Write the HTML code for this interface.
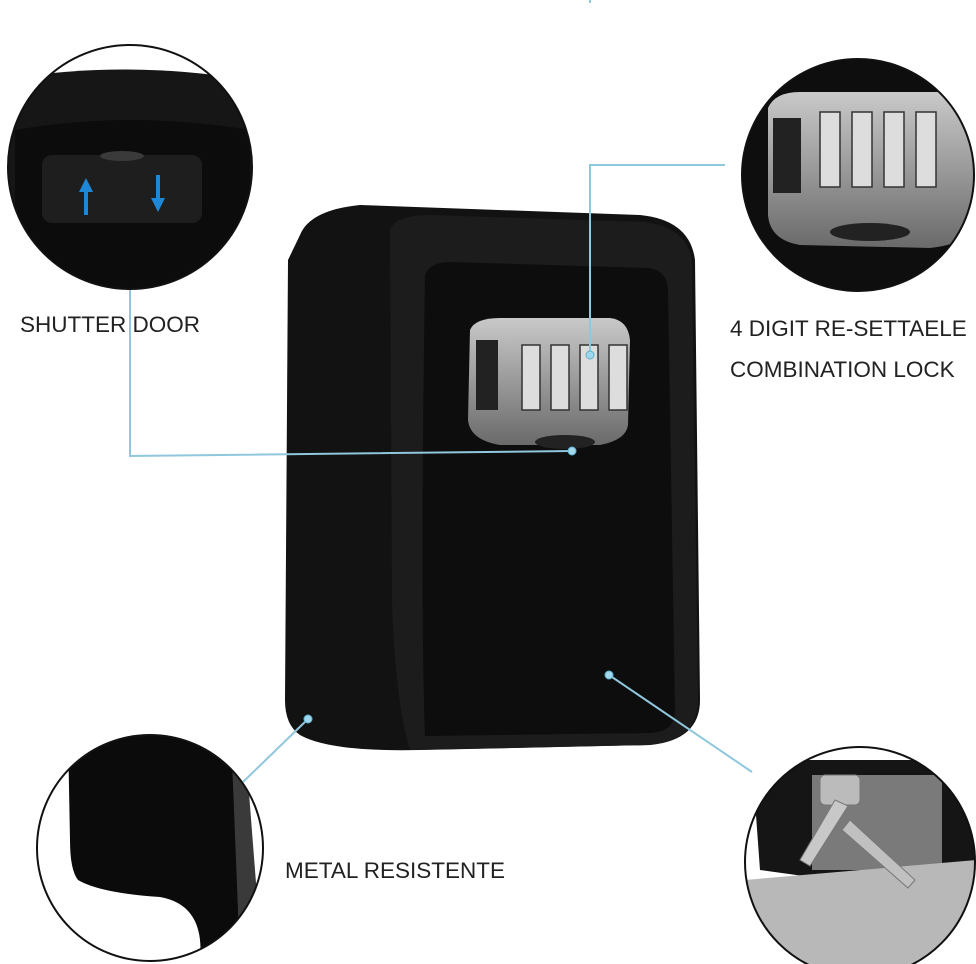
<!DOCTYPE html>
<html><head><style>
html,body{margin:0;padding:0;background:#fff;}
svg{display:block}
text{font-family:"Liberation Sans",sans-serif;fill:#222;font-size:22.5px}
</style></head><body>
<svg width="976" height="964" viewBox="0 0 976 964">
<defs>
<clipPath id="c1"><circle cx="130" cy="167" r="122"/></clipPath>
<clipPath id="c2"><circle cx="858" cy="175" r="116"/></clipPath>
<clipPath id="c3"><circle cx="150" cy="848" r="113"/></clipPath>
<clipPath id="c4"><circle cx="860" cy="862" r="115"/></clipPath>
<linearGradient id="gw" x1="0" y1="0" x2="0" y2="1"><stop offset="0" stop-color="#c9c9c9"/><stop offset="1" stop-color="#6a6a6a"/></linearGradient>
</defs>
<!-- main box -->
<path d="M300,235 Q310,210 360,205 L640,215 Q690,220 695,260 L700,700 Q700,740 650,745 L420,750 Q330,752 300,735 Q285,725 285,700 L288,260 Z" fill="#121212"/>
<path d="M390,230 Q395,215 430,215 L645,222 Q690,228 692,265 L698,700 Q698,740 650,745 L410,750 Q395,700 392,600 Z" fill="#1c1c1c"/>
<path d="M425,275 Q430,262 450,262 L650,268 Q668,272 668,290 L675,710 Q675,732 650,733 L425,736 Q420,600 425,275 Z" fill="#0d0d0d"/>
<!-- lock window -->
<path d="M470,330 Q475,318 500,318 L610,318 Q628,320 630,340 L628,425 Q626,440 600,445 L500,445 Q470,440 468,420 Z" fill="url(#gw)"/>
<rect x="476" y="340" width="22" height="70" fill="#222"/>
<g fill="#ddd" stroke="#333" stroke-width="1.5">
<rect x="522" y="345" width="18" height="65"/><rect x="551" y="345" width="18" height="65"/><rect x="580" y="345" width="18" height="65"/><rect x="609" y="345" width="18" height="65"/>
</g>
<ellipse cx="565" cy="442" rx="30" ry="7" fill="#222"/>
<!-- connectors -->
<g stroke="#8fc7dc" stroke-width="2" fill="none">
<polyline points="130,290 130,456 572,451"/>
<polyline points="725,165 590,165 590,355"/>
<line x1="308" y1="719" x2="243" y2="782"/>
<line x1="609" y1="675" x2="752" y2="772"/>
</g>
<g fill="#9fd8ec" stroke="#5fb0cc"><circle cx="572" cy="451" r="4"/><circle cx="590" cy="355" r="4"/><circle cx="308" cy="719" r="4"/><circle cx="609" cy="675" r="4"/></g>
<!-- circle 1 -->
<g clip-path="url(#c1)">
<rect x="0" y="40" width="260" height="260" fill="#fff"/>
<path d="M0,80 Q130,58 260,82 L260,300 L0,300 Z" fill="#161616"/>
<path d="M15,130 Q130,110 250,130 L250,300 L15,300 Z" fill="#0c0c0c"/>
<rect x="42" y="155" width="160" height="68" rx="10" fill="#1e1e1e"/>
<ellipse cx="122" cy="156" rx="22" ry="5" fill="#3a3a3a"/>
<path d="M86,178 L79,192 L84,192 L84,215 L88,215 L88,192 L93,192 Z" fill="#1e88d6"/>
<path d="M158,212 L151,198 L156,198 L156,175 L160,175 L160,198 L165,198 Z" fill="#1e88d6"/>
</g>
<circle cx="130" cy="167" r="122" fill="none" stroke="#111" stroke-width="2"/>
<!-- circle 2 -->
<g clip-path="url(#c2)">
<rect x="738" y="55" width="240" height="240" fill="#0e0e0e"/>
<path d="M768,108 Q775,92 800,92 L950,92 L976,100 L976,230 Q960,245 930,248 L800,245 Q770,240 768,215 Z" fill="url(#gw)"/>
<rect x="773" y="118" width="28" height="75" fill="#222"/>
<g fill="#ddd" stroke="#333" stroke-width="1.5"><rect x="820" y="112" width="20" height="75"/><rect x="852" y="112" width="20" height="75"/><rect x="884" y="112" width="20" height="75"/><rect x="916" y="112" width="20" height="75"/></g>
<ellipse cx="870" cy="232" rx="40" ry="9" fill="#222"/>
</g>
<circle cx="858" cy="175" r="116" fill="none" stroke="#111" stroke-width="2"/>
<!-- circle 3 -->
<g clip-path="url(#c3)">
<rect x="30" y="730" width="240" height="240" fill="#fff"/>
<path d="M68,735 L232,735 L240,960 L200,960 Q205,905 160,897 Q100,893 78,880 Q70,870 70,840 Z" fill="#0b0b0b"/>
<path d="M232,760 L248,780 L262,960 L240,960 Z" fill="#3a3a3a"/>
</g>
<circle cx="150" cy="848" r="113" fill="none" stroke="#111" stroke-width="2"/>
<!-- circle 4 -->
<g clip-path="url(#c4)">
<rect x="740" y="745" width="240" height="225" fill="#fff"/>
<path d="M752,760 L976,760 L976,900 L760,870 Z" fill="#151515"/>
<rect x="812" y="775" width="130" height="95" fill="#7a7a7a"/>
<path d="M745,880 L976,860 L976,964 L745,964 Z" fill="#b8b8b8"/>
<rect x="820" y="775" width="40" height="30" rx="5" fill="#bbb" stroke="#777"/>
<path d="M835,800 L800,860 L810,866 L848,806 Z" fill="#c8c8c8" stroke="#777"/>
<path d="M850,820 L915,880 L908,888 L842,830 Z" fill="#c0c0c0" stroke="#777"/>
</g>
<circle cx="860" cy="862" r="115" fill="none" stroke="#111" stroke-width="2"/>
<!-- labels -->
<text x="20" y="332">SHUTTER DOOR</text>
<text x="730" y="336">4 DIGIT RE-SETTAELE</text>
<text x="730" y="377">COMBINATION LOCK</text>
<text x="285" y="878">METAL RESISTENTE</text>
<line x1="590" y1="0" x2="590" y2="3" stroke="#8fc7dc" stroke-width="2"/>
</svg>
</body></html>
